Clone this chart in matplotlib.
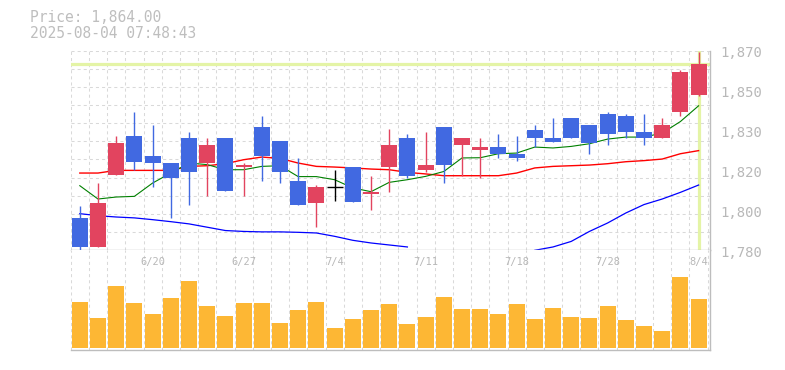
import matplotlib
matplotlib.use("Agg")
import matplotlib.pyplot as plt
import numpy as np

plt.rcParams['lines.scale_dashes'] = False

# ---------------- data ----------------
dates = ["6/16", "6/17", "6/18", "6/19", "6/20", "6/23", "6/24", "6/25", "6/26", "6/27",
         "6/30", "7/1", "7/2", "7/3", "7/4", "7/7", "7/8", "7/9", "7/10", "7/11",
         "7/14", "7/15", "7/16", "7/17", "7/18", "7/22", "7/23", "7/24", "7/25",
         "7/28", "7/29", "7/30", "7/31", "8/1", "8/4"]
shown_dates = ["6/20", "6/27", "7/4", "7/11", "7/18", "7/28", "8/4"]

opens = [1794.6, 1781.3, 1814.1, 1831.6, 1822.6, 1819.5, 1830.7, 1819.2, 1830.7, 1817.3,
         1835.7, 1829.4, 1811.4, 1801.2, 1808.7, 1817.7, 1805.2, 1817.4, 1830.7, 1816.0,
         1835.7, 1827.3, 1825.0, 1826.7, 1823.5, 1834.3, 1830.7, 1839.7, 1836.6,
         1841.5, 1840.6, 1833.4, 1830.4, 1842.1, 1850.1]
highs = [1799.8, 1810.3, 1831.6, 1842.4, 1836.6, 1819.5, 1833.4, 1830.7, 1830.7, 1819.5,
         1840.6, 1829.4, 1821.7, 1809.4, 1816.3, 1817.7, 1813.6, 1834.5, 1832.5, 1833.4,
         1835.7, 1830.7, 1830.7, 1832.5, 1831.6, 1836.6, 1839.7, 1839.7, 1836.6,
         1842.4, 1841.5, 1841.5, 1839.7, 1861.3, 1869.4]
lows = [1780.0, 1781.3, 1814.1, 1816.0, 1808.4, 1794.4, 1800.3, 1804.3, 1806.9, 1804.3,
        1811.0, 1810.2, 1800.3, 1790.4, 1802.0, 1801.9, 1798.0, 1806.1, 1812.4, 1815.1,
        1810.2, 1813.3, 1812.4, 1821.4, 1820.1, 1826.4, 1829.0, 1830.4, 1823.2,
        1827.3, 1830.4, 1827.3, 1830.4, 1840.3, 1849.3]
closes = [1781.3, 1801.5, 1828.5, 1819.9, 1819.2, 1812.4, 1815.1, 1827.6, 1806.9, 1818.6,
          1822.3, 1815.1, 1800.3, 1808.7, 1808.7, 1801.9, 1806.4, 1827.6, 1813.3, 1818.6,
          1818.3, 1830.7, 1826.7, 1823.5, 1821.4, 1830.4, 1829.0, 1830.4, 1828.2,
          1832.2, 1833.1, 1830.4, 1836.6, 1860.4, 1864.0]

ma_short = [1809.1, 1803.1, 1804.0, 1804.3, 1810.3, 1814.8, 1819.3, 1818.6, 1816.3, 1816.3,
            1817.8, 1818.1, 1813.2, 1813.2, 1811.8, 1808.1, 1806.4, 1810.6, 1811.8, 1813.3,
            1815.5, 1821.6, 1821.7, 1823.5, 1823.8, 1826.5, 1826.1, 1826.8, 1828.0,
            1830.1, 1831.0, 1831.0, 1832.8, 1838.0, 1845.1]
ma_mid = [1814.8, 1814.8, 1816.0, 1816.0, 1816.0, 1816.0, 1817.8, 1818.1, 1819.0, 1820.8,
          1822.0, 1821.4, 1819.3, 1817.8, 1817.5, 1817.1, 1816.6, 1816.3, 1815.1, 1814.4,
          1813.6, 1813.6, 1813.6, 1813.6, 1814.8, 1817.1, 1817.8, 1818.1, 1818.4,
          1819.0, 1819.9, 1820.4, 1821.1, 1823.5, 1824.9]
# long average: None where it falls below the visible range
ma_long = [1796.5, 1795.6, 1795.0, 1794.6, 1793.8, 1792.9, 1791.9, 1790.4, 1788.9, 1788.5,
           1788.3, 1788.3, 1788.1, 1787.8, 1786.3, 1784.5, 1783.3, 1782.4, 1781.5, None,
           None, None, None, None, None, 1780.0, 1781.5, 1784.0, 1788.5,
           1792.3, 1796.8, 1800.6, 1803.1, 1806.1, 1809.4]

volume = [45.7, 29.7, 61.7, 44.7, 33.7, 49.7, 66.7, 41.7, 31.7, 44.7,
          44.7, 24.7, 37.7, 45.7, 19.7, 28.7, 37.7, 43.7, 23.7, 30.7,
          50.7, 38.7, 38.7, 33.7, 43.7, 28.7, 39.7, 30.7, 29.7,
          41.7, 27.7, 21.7, 16.7, 71.0, 48.7]

last_price = 1864.0
title_price = "Price: 1,864.00"
title_time = "2025-08-04 07:48:43"

y_tick_values = [1870, 1852, 1834, 1816, 1798, 1780]
y_tick_labels = ["1,870", "1,850", "1,830", "1,820", "1,800", "1,780"]

# ---------------- style ----------------
RED = "#e2445f"
BLUE = "#4169e1"
VOL = "#fdb734"
HILITE = "#e4f4a6"
GRID = "#d9d9d9"
SPINE = "#bdbdbd"
TXT = "#b8b8b8"
MONO = "DejaVu Sans Mono"

W, H = 785, 370
fig = plt.figure(figsize=(W / 100, H / 100), dpi=100)

def frac(x0, y0, x1, y1):
    return [x0 / W, 1 - y1 / H, (x1 - x0) / W, (y1 - y0) / H]

ax = fig.add_axes(frac(70.7, 50.5, 710, 250.3))
axv = fig.add_axes(frac(70.7, 250.3, 710, 350))

n = len(dates)
x = np.arange(n)
xlim = (-0.5, n - 0.5 + (710 - 707.7) / 18.2)
ymin, ymax = 1780, 1870

dash = (0, (2.2, 2.2))
for a in (ax, axv):
    a.set_xlim(*xlim)
    for k in range(n + 1):
        a.axvline(k - 0.5, color=GRID, lw=0.75, ls=dash, zorder=0)
    for s in ("left", "top"):
        a.spines[s].set_visible(False)
    for s in ("bottom", "right"):
        a.spines[s].set_color(SPINE)
        a.spines[s].set_linewidth(1.0)
    a.set_xticks([])
    a.set_yticks([])
    a.set_facecolor("white")

# price panel grid
ax.set_ylim(ymin, ymax)
for k in range(1, 12):
    ax.axhline(ymin + k * (ymax - ymin) / 11, color=GRID, lw=0.75, ls=dash, zorder=0)

# highlight lines for current price
ax.axhline(last_price, color=HILITE, lw=2.3, zorder=1)
ax.axvline(x[-1], color=HILITE, lw=2.3, zorder=1)

# moving averages
ma_long_arr = np.array([np.nan if v is None else v for v in ma_long])
ax.plot(x, ma_long_arr, color="#0000ff", lw=0.9, zorder=2)
ax.plot(x, ma_mid, color="#ff0000", lw=1.0, zorder=2)
ax.plot(x, ma_short, color="#008000", lw=0.8, zorder=2)

# candles
bw = 0.88
for i in range(n):
    o, h, l, c = opens[i], highs[i], lows[i], closes[i]
    if c > o:
        col = RED
    elif c < o:
        col = BLUE
    else:
        col = "black"
    ax.vlines(x[i], l, h, color=col, lw=1.0, zorder=3)
    if c == o:
        ax.hlines(o, x[i] - bw / 2, x[i] + bw / 2, color=col, lw=1.0, zorder=4)
    else:
        ax.bar(x[i], abs(c - o), bottom=min(o, c), width=bw, color=col,
               linewidth=0, zorder=4)

# right-side price labels
for v, lab in zip(y_tick_values, y_tick_labels):
    ax.annotate(lab, xy=(1, v), xycoords=("axes fraction", "data"),
                xytext=(7.3, -2.0), textcoords="offset points",
                ha="left", va="center", fontsize=10, color=TXT, family=MONO,
                annotation_clip=False)

# volume panel
axv.set_ylim(-2.3, 97.4)
axv.bar(x, volume, width=bw, color=VOL, linewidth=0, zorder=2)
for d in shown_dates:
    i = dates.index(d)
    axv.annotate(d, xy=(x[i], 1), xycoords=("data", "axes fraction"),
                 xytext=(0, -8.6), textcoords="offset points",
                 ha="center", va="center", fontsize=7.5, color=TXT, family=MONO,
                 zorder=5)

# header text
fig.text(30 / W, 1 - 17.7 / H, title_price, ha="left", va="center",
         fontsize=10.5, color="#bebebe", family=MONO)
fig.text(30 / W, 1 - 33.3 / H, title_time, ha="left", va="center",
         fontsize=10.5, color="#bebebe", family=MONO)

fig.savefig("out.png", dpi=100)
